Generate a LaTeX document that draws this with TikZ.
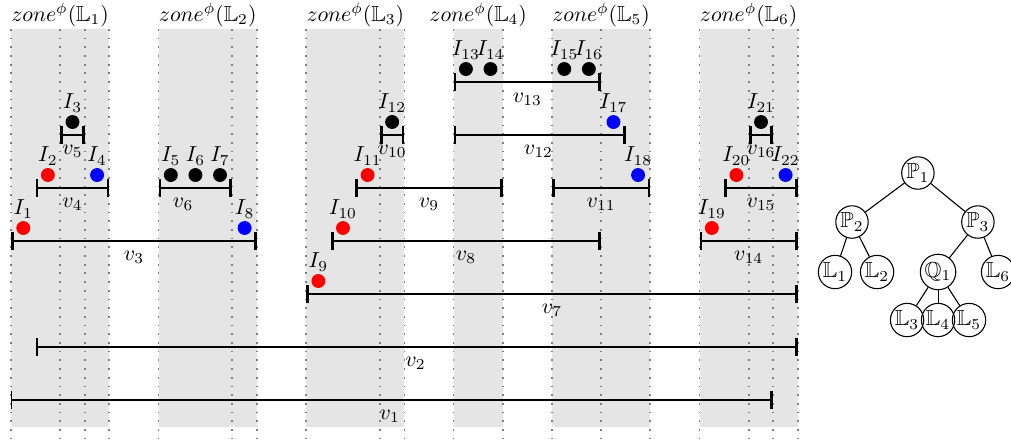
\documentclass[tikz,border=0pt]{standalone}
\usepackage{amssymb}
\usetikzlibrary{arrows.meta}
\begin{document}
\begin{tikzpicture}[x=11.3114pt,y=-0.46pt,
  zoneband/.style={fill=gray!20,draw=none},
  gridline/.style={gray,line width=0.8pt,dash pattern=on 0.8pt off 3.2pt},
  interval/.style={{Bar[width=8pt,line width=1.3pt]}-{Bar[width=8pt,line width=1.3pt]},line width=0.8pt},
  vlab/.style={inner sep=0pt},
  zlab/.style={inner sep=0pt},
  pt/.style={circle,minimum size=6.4pt,inner sep=0pt,label={[inner sep=1pt]above:#1}},
  rdot/.style={pt=#1,fill=red},
  bdot/.style={pt=#1,fill=blue},
  kdot/.style={pt=#1,fill=black},
  tnode/.style={circle,draw,line width=0.5pt,minimum size=13.8pt,inner sep=0.5pt},
  tedge/.style={line width=0.5pt}
]
\useasboundingbox (-0.4473,0) rectangle (40.667,441);
% zones
\foreach \a/\b in {0/4,6/10,12/16,18/20,22/26,28/32}
  \fill[zoneband] (\a,29) rectangle (\b,427);
\foreach \k in {0,2,3,4,6,9,10,12,15,16,18,20,22,24,26,28,30,31,32}
  \draw[gridline] (\k,29) -- (\k,441);
% zone labels
\node[zlab] (z1) at (2,15) {$zone^{\phi}(\mathbb{L}_1)$};
\node[zlab] (z2) at (8,15) {$zone^{\phi}(\mathbb{L}_2)$};
\node[zlab] (z3) at (14,15) {$zone^{\phi}(\mathbb{L}_3)$};
\node[zlab] (z4) at (19,15) {$zone^{\phi}(\mathbb{L}_4)$};
\node[zlab] (z5) at (24,15) {$zone^{\phi}(\mathbb{L}_5)$};
\node[zlab] (z6) at (30,15) {$zone^{\phi}(\mathbb{L}_6)$};
% intervals
\draw[interval] (18,82) -- (24,82);   \node[vlab] (v13) at (21,99) {$v_{13}$};
\draw[interval] (2,135) -- (3,135);   \node[vlab] (v5) at (2.5,151) {$v_{5}$};
\draw[interval] (15,135) -- (16,135); \node[vlab] (v10) at (15.5,151) {$v_{10}$};
\draw[interval] (18,135) -- (25,135); \node[vlab] (v12) at (21.45,151) {$v_{12}$};
\draw[interval] (30,135) -- (31,135); \node[vlab] (v16) at (30.5,151) {$v_{16}$};
\draw[interval] (1,188) -- (4,188);   \node[vlab] (v4) at (2.5,204) {$v_{4}$};
\draw[interval] (6,188) -- (9,188);   \node[vlab] (v6) at (7,204) {$v_{6}$};
\draw[interval] (14,188) -- (20,188); \node[vlab] (v9) at (17,204) {$v_{9}$};
\draw[interval] (22,188) -- (26,188); \node[vlab] (v11) at (24,204) {$v_{11}$};
\draw[interval] (29,188) -- (32,188); \node[vlab] (v15) at (30.5,204) {$v_{15}$};
\draw[interval] (0,241) -- (10,241);  \node[vlab] (v3) at (5,257) {$v_{3}$};
\draw[interval] (13,241) -- (24,241); \node[vlab] (v8) at (18.5,257) {$v_{8}$};
\draw[interval] (28,241) -- (32,241); \node[vlab] (v14) at (30,257) {$v_{14}$};
\draw[interval] (12,294) -- (32,294); \node[vlab] (v7) at (22,310) {$v_{7}$};
\draw[interval] (1,347) -- (32,347);  \node[vlab] (v2) at (16.45,363) {$v_{2}$};
\draw[{Bar[width=8pt,line width=0.4pt]}-{Bar[width=8pt,line width=1.3pt]},line width=0.8pt] (0,400) -- (31,400);
\node[vlab] (v1) at (15.4,416) {$v_{1}$};
% points
\node[rdot=$I_1$] (I1) at (0.5,228) {};
\node[rdot=$I_2$] (I2) at (1.5,175) {};
\node[kdot=$I_3$] (I3) at (2.5,122) {};
\node[bdot=$I_4$] (I4) at (3.5,175) {};
\node[kdot=$I_5$] (I5) at (6.5,175) {};
\node[kdot=$I_6$] (I6) at (7.5,175) {};
\node[kdot=$I_7$] (I7) at (8.5,175) {};
\node[bdot=$I_8$] (I8) at (9.5,228) {};
\node[rdot=$I_9$] (I9) at (12.5,281) {};
\node[rdot=$I_{10}$] (I10) at (13.5,228) {};
\node[rdot=$I_{11}$] (I11) at (14.5,175) {};
\node[kdot=$I_{12}$] (I12) at (15.5,122) {};
\node[kdot=$I_{13}$] (I13) at (18.5,69) {};
\node[kdot=$I_{14}$] (I14) at (19.5,69) {};
\node[kdot=$I_{15}$] (I15) at (22.5,69) {};
\node[kdot=$I_{16}$] (I16) at (23.5,69) {};
\node[bdot=$I_{17}$] (I17) at (24.5,122) {};
\node[bdot=$I_{18}$] (I18) at (25.5,175) {};
\node[rdot=$I_{19}$] (I19) at (28.5,228) {};
\node[rdot=$I_{20}$] (I20) at (29.5,175) {};
\node[kdot=$I_{21}$] (I21) at (30.5,122) {};
\node[bdot=$I_{22}$] (I22) at (31.5,175) {};
% tree
\node[tnode] (P1) at (36.88,173) {$\mathbb{P}_1$};
\node[tnode] (P2) at (34.2,222) {$\mathbb{P}_2$};
\node[tnode] (P3) at (39.32,222) {$\mathbb{P}_3$};
\node[tnode] (L1) at (33.51,272) {$\mathbb{L}_1$};
\node[tnode] (L2) at (35.22,272) {$\mathbb{L}_2$};
\node[tnode] (Q1) at (37.70,272) {$\mathbb{Q}_1$};
\node[tnode] (L6) at (40.14,272) {$\mathbb{L}_6$};
\node[tnode] (L3) at (36.44,320) {$\mathbb{L}_3$};
\node[tnode] (L4) at (37.70,320) {$\mathbb{L}_4$};
\node[tnode] (L5) at (38.96,320) {$\mathbb{L}_5$};
\draw[tedge] (P1) -- (P2);
\draw[tedge] (P1) -- (P3);
\draw[tedge] (P2) -- (L1);
\draw[tedge] (P2) -- (L2);
\draw[tedge] (P3) -- (Q1);
\draw[tedge] (P3) -- (L6);
\draw[tedge] (Q1) -- (L3);
\draw[tedge] (Q1) -- (L4);
\draw[tedge] (Q1) -- (L5);
\end{tikzpicture}
\end{document}
